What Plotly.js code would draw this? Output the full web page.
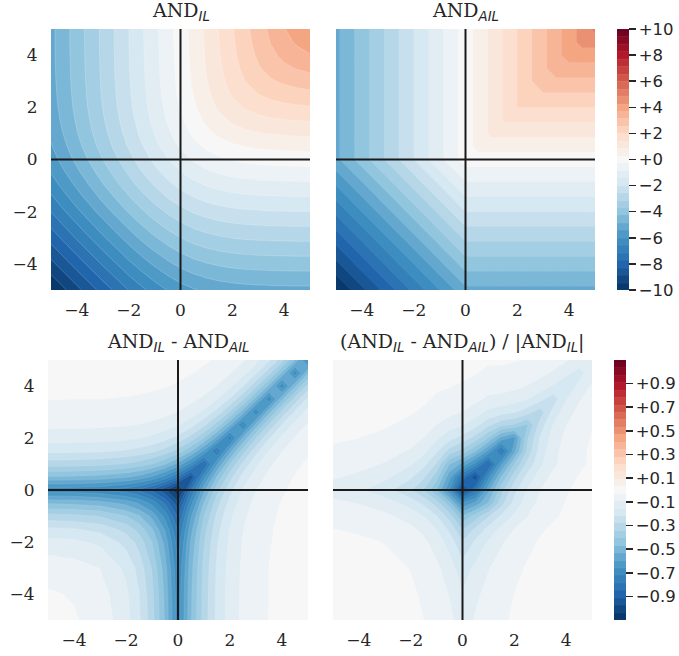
<!DOCTYPE html>
<html><head><meta charset="utf-8">
<script src="https://cdn.plot.ly/plotly-3.0.1.min.js"></script>
<style>html,body{margin:0;padding:0;background:#fff}</style></head>
<body><div id="chart" style="width:679px;height:656px"></div>
<script>
const gridValues=[-5,-4,-3,-2,-1.5,-1,-.5,0,.5,1,1.5,2,2.5,3,3.5,4,4.5,5];
const andIL=[
[-10.01,-9.03,-8.06,-7.13,-6.71,-6.32,-5.98,-5.70,-5.48,-5.32,-5.20,-5.13,-5.08,-5.05,-5.03,-5.02,-5.01,-5.01],
[-9.03,-8.04,-7.07,-6.14,-5.72,-5.33,-4.99,-4.70,-4.48,-4.32,-4.21,-4.13,-4.08,-4.05,-4.03,-4.02,-4.01,-4.01],
[-8.06,-7.07,-6.10,-5.17,-4.74,-4.35,-4.01,-3.72,-3.49,-3.33,-3.21,-3.13,-3.08,-3.05,-3.03,-3.02,-3.01,-3.01],
[-7.13,-6.14,-5.17,-4.24,-3.81,-3.41,-3.06,-2.76,-2.52,-2.35,-2.23,-2.14,-2.09,-2.06,-2.03,-2.02,-2.01,-2.01],
[-6.71,-5.72,-4.74,-3.81,-3.37,-2.96,-2.60,-2.30,-2.06,-1.87,-1.74,-1.65,-1.60,-1.56,-1.54,-1.52,-1.51,-1.51],
[-6.32,-5.33,-4.35,-3.41,-2.96,-2.55,-2.18,-1.86,-1.60,-1.41,-1.27,-1.17,-1.11,-1.07,-1.04,-1.03,-1.02,-1.01],
[-5.98,-4.99,-4.01,-3.06,-2.60,-2.18,-1.79,-1.46,-1.18,-.96,-.81,-.70,-.62,-.58,-.55,-.53,-.52,-.51],
[-5.70,-4.70,-3.72,-2.76,-2.30,-1.86,-1.46,-1.10,-.79,-.55,-.37,-.24,-.15,-.10,-.06,-.04,-.02,-.01],
[-5.48,-4.48,-3.49,-2.52,-2.06,-1.60,-1.18,-.79,-.46,-.18,.04,.19,.30,.38,.42,.45,.47,.48],
[-5.32,-4.32,-3.33,-2.35,-1.87,-1.41,-.96,-.55,-.18,.14,.40,.59,.73,.83,.89,.93,.96,.98],
[-5.20,-4.21,-3.21,-2.23,-1.74,-1.27,-.81,-.37,.04,.40,.70,.95,1.13,1.26,1.35,1.40,1.44,1.46],
[-5.13,-4.13,-3.13,-2.14,-1.65,-1.17,-.70,-.24,.19,.59,.95,1.24,1.48,1.65,1.77,1.86,1.91,1.95],
[-5.08,-4.08,-3.08,-2.09,-1.60,-1.11,-.62,-.15,.30,.73,1.13,1.48,1.77,2.00,2.17,2.28,2.36,2.42],
[-5.05,-4.05,-3.05,-2.06,-1.56,-1.07,-.58,-.10,.38,.83,1.26,1.65,2.00,2.28,2.51,2.67,2.79,2.87],
[-5.03,-4.03,-3.03,-2.03,-1.54,-1.04,-.55,-.06,.42,.89,1.35,1.77,2.17,2.51,2.79,3.02,3.18,3.29],
[-5.02,-4.02,-3.02,-2.02,-1.52,-1.03,-.53,-.04,.45,.93,1.40,1.86,2.28,2.67,3.02,3.30,3.52,3.68],
[-5.01,-4.01,-3.01,-2.01,-1.51,-1.02,-.52,-.02,.47,.96,1.44,1.91,2.36,2.79,3.18,3.52,3.80,4.02],
[-5.01,-4.01,-3.01,-2.01,-1.51,-1.01,-.51,-.01,.48,.98,1.46,1.95,2.42,2.87,3.29,3.68,4.02,4.31]];
const andAIL=[
[-10,-9,-8,-7,-6.5,-6,-5.5,-5,-5,-5,-5,-5,-5,-5,-5,-5,-5,-5],
[-9,-8,-7,-6,-5.5,-5,-4.5,-4,-4,-4,-4,-4,-4,-4,-4,-4,-4,-4],
[-8,-7,-6,-5,-4.5,-4,-3.5,-3,-3,-3,-3,-3,-3,-3,-3,-3,-3,-3],
[-7,-6,-5,-4,-3.5,-3,-2.5,-2,-2,-2,-2,-2,-2,-2,-2,-2,-2,-2],
[-6.5,-5.5,-4.5,-3.5,-3,-2.5,-2,-1.5,-1.5,-1.5,-1.5,-1.5,-1.5,-1.5,-1.5,-1.5,-1.5,-1.5],
[-6,-5,-4,-3,-2.5,-2,-1.5,-1,-1,-1,-1,-1,-1,-1,-1,-1,-1,-1],
[-5.5,-4.5,-3.5,-2.5,-2,-1.5,-1,-.5,-.5,-.5,-.5,-.5,-.5,-.5,-.5,-.5,-.5,-.5],
[-5,-4,-3,-2,-1.5,-1,-.5,0,0,0,0,0,0,0,0,0,0,0],
[-5,-4,-3,-2,-1.5,-1,-.5,0,.5,.5,.5,.5,.5,.5,.5,.5,.5,.5],
[-5,-4,-3,-2,-1.5,-1,-.5,0,.5,1,1,1,1,1,1,1,1,1],
[-5,-4,-3,-2,-1.5,-1,-.5,0,.5,1,1.5,1.5,1.5,1.5,1.5,1.5,1.5,1.5],
[-5,-4,-3,-2,-1.5,-1,-.5,0,.5,1,1.5,2,2,2,2,2,2,2],
[-5,-4,-3,-2,-1.5,-1,-.5,0,.5,1,1.5,2,2.5,2.5,2.5,2.5,2.5,2.5],
[-5,-4,-3,-2,-1.5,-1,-.5,0,.5,1,1.5,2,2.5,3,3,3,3,3],
[-5,-4,-3,-2,-1.5,-1,-.5,0,.5,1,1.5,2,2.5,3,3.5,3.5,3.5,3.5],
[-5,-4,-3,-2,-1.5,-1,-.5,0,.5,1,1.5,2,2.5,3,3.5,4,4,4],
[-5,-4,-3,-2,-1.5,-1,-.5,0,.5,1,1.5,2,2.5,3,3.5,4,4.5,4.5],
[-5,-4,-3,-2,-1.5,-1,-.5,0,.5,1,1.5,2,2.5,3,3.5,4,4.5,5]];
const diffAbs=[
[-.013,-.025,-.055,-.133,-.207,-.318,-.478,-.696,-.477,-.315,-.203,-.128,-.079,-.049,-.030,-.018,-.011,-.007],
[-.025,-.036,-.066,-.143,-.216,-.327,-.485,-.702,-.481,-.318,-.205,-.129,-.080,-.049,-.031,-.019,-.011,-.007],
[-.055,-.066,-.095,-.170,-.241,-.349,-.505,-.718,-.493,-.327,-.210,-.133,-.083,-.051,-.031,-.019,-.012,-.007],
[-.133,-.143,-.170,-.240,-.306,-.408,-.555,-.759,-.524,-.349,-.226,-.143,-.089,-.055,-.034,-.021,-.013,-.008],
[-.207,-.216,-.241,-.306,-.369,-.464,-.604,-.799,-.555,-.372,-.241,-.153,-.096,-.059,-.036,-.022,-.014,-.008],
[-.318,-.327,-.349,-.408,-.464,-.552,-.680,-.862,-.604,-.408,-.266,-.170,-.106,-.066,-.040,-.025,-.015,-.009],
[-.478,-.485,-.505,-.555,-.604,-.680,-.794,-.958,-.680,-.464,-.306,-.197,-.124,-.077,-.047,-.029,-.018,-.011],
[-.696,-.702,-.718,-.759,-.799,-.862,-.958,-1.099,-.794,-.552,-.369,-.240,-.152,-.095,-.059,-.036,-.022,-.013],
[-.477,-.481,-.493,-.524,-.555,-.604,-.680,-.794,-.958,-.680,-.464,-.306,-.197,-.124,-.077,-.047,-.029,-.018],
[-.315,-.318,-.327,-.349,-.372,-.408,-.464,-.552,-.680,-.862,-.604,-.408,-.266,-.170,-.106,-.066,-.040,-.025],
[-.203,-.205,-.210,-.226,-.241,-.266,-.306,-.369,-.464,-.604,-.799,-.555,-.372,-.241,-.153,-.096,-.059,-.036],
[-.128,-.129,-.133,-.143,-.153,-.170,-.197,-.240,-.306,-.408,-.555,-.759,-.524,-.349,-.226,-.143,-.089,-.055],
[-.079,-.080,-.083,-.089,-.096,-.106,-.124,-.152,-.197,-.266,-.372,-.524,-.733,-.505,-.335,-.216,-.137,-.085],
[-.049,-.049,-.051,-.055,-.059,-.066,-.077,-.095,-.124,-.170,-.241,-.349,-.505,-.718,-.493,-.326,-.210,-.132],
[-.030,-.031,-.031,-.034,-.036,-.040,-.047,-.059,-.077,-.106,-.153,-.226,-.335,-.493,-.708,-.485,-.321,-.206],
[-.018,-.019,-.019,-.021,-.022,-.025,-.029,-.036,-.047,-.066,-.096,-.143,-.216,-.326,-.485,-.702,-.481,-.317],
[-.011,-.011,-.012,-.013,-.014,-.015,-.018,-.022,-.029,-.040,-.059,-.089,-.137,-.210,-.321,-.481,-.698,-.476],
[-.007,-.007,-.007,-.008,-.008,-.009,-.011,-.013,-.018,-.025,-.036,-.055,-.085,-.132,-.206,-.317,-.476,-.694]];
const diffRel=[
[-.001,-.003,-.007,-.019,-.031,-.050,-.080,-.122,-.087,-.059,-.039,-.025,-.016,-.010,-.006,-.004,-.002,-.001],
[-.003,-.004,-.009,-.023,-.038,-.061,-.097,-.149,-.107,-.074,-.049,-.031,-.020,-.012,-.008,-.005,-.003,-.002],
[-.007,-.009,-.016,-.033,-.051,-.080,-.126,-.193,-.141,-.098,-.065,-.042,-.027,-.017,-.010,-.006,-.004,-.002],
[-.019,-.023,-.033,-.057,-.080,-.120,-.181,-.275,-.208,-.149,-.101,-.067,-.043,-.027,-.017,-.010,-.006,-.004],
[-.031,-.038,-.051,-.080,-.109,-.157,-.232,-.347,-.269,-.199,-.139,-.093,-.060,-.038,-.023,-.014,-.009,-.005],
[-.050,-.061,-.080,-.120,-.157,-.216,-.312,-.463,-.378,-.289,-.209,-.145,-.095,-.062,-.038,-.024,-.015,-.009],
[-.080,-.097,-.126,-.181,-.232,-.312,-.444,-.656,-.576,-.464,-.306,-.197,-.124,-.077,-.047,-.029,-.018,-.011],
[-.122,-.149,-.193,-.275,-.347,-.463,-.656,-1.00,-.794,-.552,-.369,-.240,-.152,-.095,-.059,-.036,-.022,-.013],
[-.087,-.107,-.141,-.208,-.269,-.378,-.576,-.794,-.958,-.680,-.464,-.306,-.197,-.124,-.077,-.047,-.029,-.018],
[-.059,-.074,-.098,-.149,-.199,-.289,-.464,-.552,-.680,-.862,-.604,-.408,-.266,-.170,-.106,-.066,-.040,-.025],
[-.039,-.049,-.065,-.101,-.139,-.209,-.306,-.369,-.464,-.604,-.799,-.555,-.329,-.191,-.113,-.069,-.041,-.025],
[-.025,-.031,-.042,-.067,-.093,-.145,-.197,-.240,-.306,-.408,-.555,-.612,-.354,-.212,-.128,-.077,-.047,-.028],
[-.016,-.020,-.027,-.043,-.060,-.095,-.124,-.152,-.197,-.266,-.329,-.354,-.414,-.253,-.154,-.095,-.058,-.035],
[-.010,-.012,-.017,-.027,-.038,-.062,-.077,-.095,-.124,-.170,-.191,-.212,-.253,-.315,-.196,-.122,-.075,-.046],
[-.006,-.008,-.010,-.017,-.023,-.038,-.047,-.059,-.077,-.106,-.113,-.128,-.154,-.196,-.254,-.161,-.101,-.063],
[-.004,-.005,-.006,-.010,-.014,-.024,-.029,-.036,-.047,-.066,-.069,-.077,-.095,-.122,-.161,-.213,-.137,-.086],
[-.002,-.003,-.004,-.006,-.009,-.015,-.018,-.022,-.029,-.040,-.041,-.047,-.058,-.075,-.101,-.137,-.184,-.118],
[-.001,-.002,-.002,-.004,-.005,-.009,-.011,-.013,-.018,-.025,-.025,-.028,-.035,-.046,-.063,-.086,-.118,-.161]];

const axisTicks=[-4,-2,0,2,4];
const upperBarTicks=[10,8,6,4,2,0,-2,-4,-6,-8,-10];
const upperBarLabels=["+10","+8","+6","+4","+2","+0","−2","−4","−6","−8","−10"];
const lowerBarTicks=[.9,.7,.5,.3,.1,-.1,-.3,-.5,-.7,-.9];
const lowerBarLabels=["+0.9","+0.7","+0.5","+0.3","+0.1","−0.1","−0.3","−0.5","−0.7","−0.9"];
const RdBuR=[[0,"#053061"],[.1,"#2166ac"],[.2,"#4393c3"],[.3,"#92c5de"],[.4,"#d1e5f0"],[.5,"#f7f7f7"],[.6,"#fddbc7"],[.7,"#f4a582"],[.8,"#d6604d"],[.9,"#b2182b"],[1,"#67001f"]];
const W=679,H=656;
const ink="#262626";
const panels=[
 {z:andIL,lim:10,xa:"x",ya:"y",box:[51,310,29,290],seam:.5},
 {z:andAIL,lim:10,xa:"x2",ya:"y2",box:[336,595,29,290],seam:.15,bar:{x:617,y:29,len:261,vals:upperBarTicks,text:upperBarLabels}},
 {z:diffAbs,lim:1.0986,xa:"x3",ya:"y3",box:[48,308,360,620],seam:.2},
 {z:diffRel,lim:1.0986,xa:"x4",ya:"y4",box:[333,592,360,620],seam:.1,bar:{x:614,y:360,len:260,vals:lowerBarTicks,text:lowerBarLabels}}];
const traces=panels.map(p=>{
 const t={type:"contour",x:gridValues,y:gridValues,z:p.z,xaxis:p.xa,yaxis:p.ya,
  colorscale:RdBuR,zauto:false,zmin:-p.lim,zmax:p.lim,autocontour:false,
  contours:{start:-p.lim,end:p.lim,size:2*p.lim/35,coloring:"fill",showlines:true},
  line:{width:.4,color:"rgba(255,255,255,"+p.seam+")",smoothing:0},
  hoverinfo:"skip",showscale:!!p.bar};
 if(p.bar){t.colorbar={thickness:12,thicknessmode:"pixels",len:p.bar.len,lenmode:"pixels",
  x:p.bar.x/W,xanchor:"left",xpad:0,ypad:0,y:1-p.bar.y/H,yanchor:"top",outlinewidth:0,
  tickmode:"array",tickvals:p.bar.vals,ticktext:p.bar.text,ticks:"outside",ticklen:7,tickwidth:1.5,tickcolor:ink,
  tickfont:{family:"DejaVu Sans",size:16.5,color:ink}};}
 return t;});
const layout={width:W,height:H,margin:{l:0,r:0,t:0,b:0},paper_bgcolor:"#fff",plot_bgcolor:"#f7f7f7",showlegend:false,shapes:[],annotations:[]};
const sub=s=>'<sub><span style="font-family:DejaVu Sans;font-style:italic">'+s+'</span></sub>';
const titles=["AND"+sub("IL"),"AND"+sub("AIL"),"AND"+sub("IL")+" - AND"+sub("AIL"),"(AND"+sub("IL")+" - AND"+sub("AIL")+") / |AND"+sub("IL")+"|"];
panels.forEach((p,i)=>{
 const sx=p.xa==="x"?"":p.xa.slice(1);
 const left=i%2===0;
 layout["xaxis"+sx]={domain:[p.box[0]/W,p.box[1]/W],range:[-5,5],tickvals:axisTicks,ticks:"outside",ticklen:5,tickcolor:"rgba(0,0,0,0)",showgrid:false,zeroline:false,showline:false,tickfont:{family:"DejaVu Serif",size:17,color:ink},anchor:p.ya};
 layout["yaxis"+sx]={domain:[1-p.box[3]/H,1-p.box[2]/H],range:[-5,5],tickvals:axisTicks,ticks:left?"outside":"",ticklen:9,tickcolor:"rgba(0,0,0,0)",showticklabels:left,showgrid:false,zeroline:false,showline:false,tickfont:{family:"DejaVu Serif",size:17,color:ink},anchor:p.xa};
 layout.shapes.push({type:"line",xref:p.xa,yref:p.ya,x0:-5,x1:5,y0:0,y1:0,line:{color:"#1a1a1a",width:2}});
 layout.shapes.push({type:"line",xref:p.xa,yref:p.ya,x0:0,x1:0,y0:-5,y1:5,line:{color:"#1a1a1a",width:2}});
 layout.annotations.push({xref:"paper",yref:"paper",x:(p.box[0]+p.box[1])/2/W,y:1-(p.box[2]-3)/H,yanchor:"bottom",xanchor:"center",showarrow:false,text:titles[i],font:{family:"DejaVu Serif",size:19,color:ink}});
});
Plotly.newPlot("chart",traces,layout,{displayModeBar:false,staticPlot:true});
</script></body></html>
